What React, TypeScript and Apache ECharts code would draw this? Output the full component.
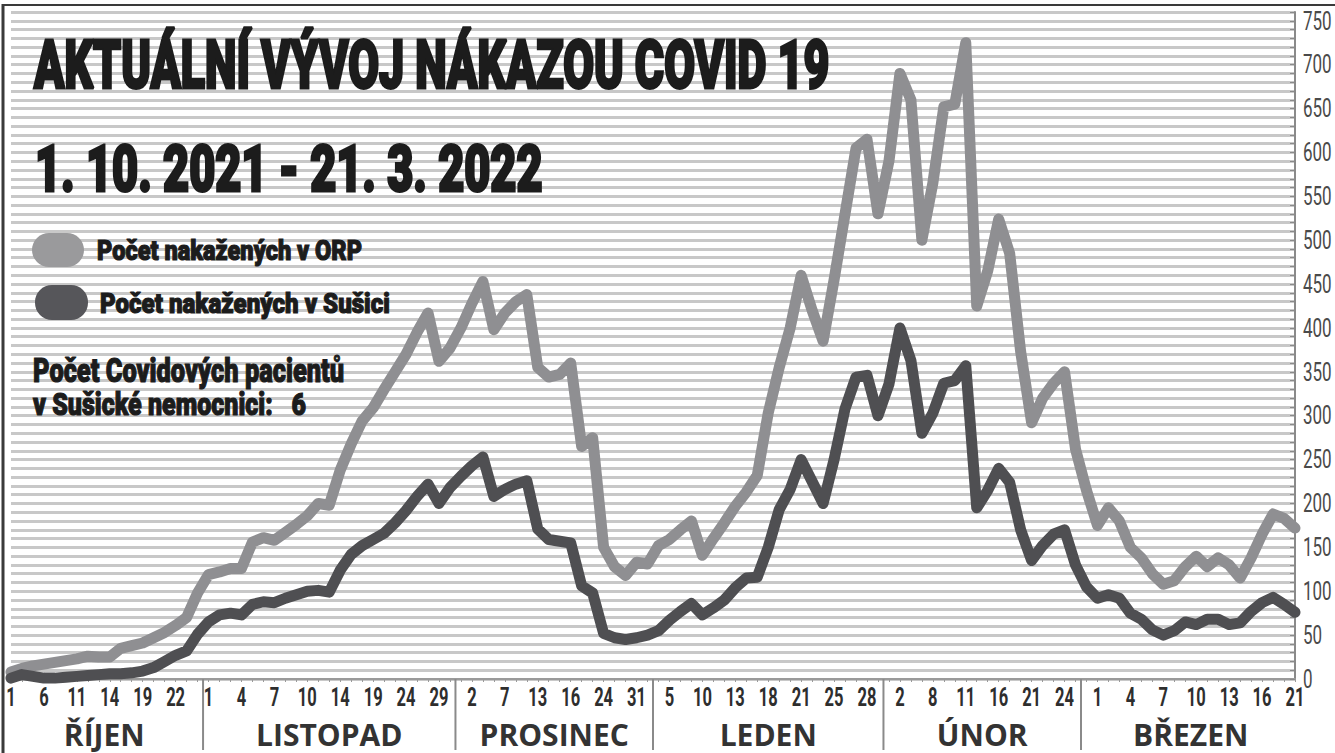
import React, { useEffect, useRef } from "react";
import * as echarts from "echarts";

// ---------- data ----------
const tickLabels = [
  "1", "6", "11", "14", "19", "22",
  "1", "4", "7", "10", "14", "19", "24", "29",
  "2", "7", "13", "16", "24", "31",
  "5", "10", "13", "18", "21", "25", "28",
  "2", "8", "11", "16", "21", "24",
  "1", "4", "7", "10", "13", "16", "21",
];
const labelStep = 3;

const orpCases = [
  8, 12, 15, 17, 19, 21, 23, 26, 25, 25,
  35, 38, 41, 47, 53, 61, 70, 98, 119, 122,
  126, 126, 156, 161, 158, 167, 176, 186, 200, 198,
  238, 268, 294, 309, 330, 350, 370, 395, 417, 362,
  377, 400, 428, 453, 398, 417, 430, 438, 355, 344,
  347, 360, 265, 275, 150, 128, 118, 133, 131, 152,
  159, 170, 180, 141, 160, 178, 197, 213, 232, 303,
  355, 400, 460, 420, 385, 455, 530, 605, 615, 530,
  590, 690, 660, 500, 565, 652, 655, 725, 425, 465,
  524, 485, 373, 292, 320, 337, 350, 262, 215, 175,
  195, 180, 150, 138, 120, 108, 112, 128, 140, 128,
  138, 130, 115, 138, 165, 188, 183, 172,
];

const susiceCases = [
  1, 5, 3, 1, 1, 2, 3, 4, 5, 6,
  6, 7, 9, 13, 20, 27, 32, 51, 65, 73,
  75, 73, 85, 88, 87, 92, 96, 100, 101, 99,
  124, 142, 152, 159, 166, 178, 192, 208, 222, 200,
  218, 231, 243, 253, 208, 216, 222, 226, 171, 159,
  157, 155, 106, 98, 52, 47, 45, 47, 50, 55,
  67, 77, 86, 73, 81, 90, 104, 115, 116, 150,
  193, 216, 250, 225, 200, 250, 308, 344, 346, 300,
  336, 400, 363, 280, 303, 337, 340, 357, 195, 215,
  240, 224, 170, 135, 152, 165, 170, 130, 105, 92,
  96, 92, 75, 68, 56, 50, 55, 65, 62, 68,
  68, 62, 64, 77, 87, 93, 85, 76,
];

const months = ["ŘÍJEN", "LISTOPAD", "PROSINEC", "LEDEN", "ÚNOR", "BŘEZEN"];
const monthStart = [0, 18, 41, 59, 80, 98];

const yMax = 760;
const yStep = 10;
const yLabelStep = 50;
const yLabelMax = 750;

const titleText = "AKTUÁLNÍ VÝVOJ NÁKAZOU COVID 19";
const dateText = "1. 10. 2021 - 21. 3. 2022";
const legendOrp = "Počet nakažených v ORP";
const legendSusice = "Počet nakažených v Sušici";
const patientsLine1 = "Počet Covidových pacientů";
const patientsLine2 = "v Sušické nemocnici:   6";

// ---------- styling ----------
const W = 1335;
const H = 753;
const ORP_COLOR = "#8f8f92";
const SUS_COLOR = "#4f4f52";
const INK = "#1c1c1c";

function measure(text: string, font: string): number {
  const c = document.createElement("canvas").getContext("2d")!;
  c.font = font;
  return c.measureText(text).width || 1;
}

function fitText(
  text: string,
  x: number,
  yMid: number,
  fontSize: number,
  weight: string,
  width: number,
  color: string,
  stroke: number
) {
  const family = "Roboto";
  const w = measure(text, `${weight} ${fontSize}px ${family}`);
  return {
    type: "text",
    x,
    y: yMid,
    scaleX: width / w,
    z: 100,
    style: {
      text,
      x: 0,
      y: 0,
      fill: color,
      stroke: stroke > 0 ? color : undefined,
      lineWidth: stroke,
      fontSize,
      fontWeight: weight,
      fontFamily: family,
      textAlign: "left",
      textVerticalAlign: "middle",
      align: "left",
      verticalAlign: "middle",
    },
  };
}

function narrowText(
  text: string,
  x: number,
  y: number,
  fontSize: number,
  weight: string,
  scaleX: number,
  color: string,
  align: string
) {
  return {
    type: "text",
    x,
    y,
    scaleX,
    z: 100,
    style: {
      text,
      x: 0,
      y: 0,
      fill: color,
      fontSize,
      fontWeight: weight,
      fontFamily: "Roboto",
      textAlign: align,
      textVerticalAlign: "middle",
      align,
      verticalAlign: "middle",
    },
  };
}

export default function App() {
  const ref = useRef<HTMLDivElement>(null);

  useEffect(() => {
    if (!ref.current) return;
    const chart = echarts.init(ref.current, null, { renderer: "svg" });
    const categories = orpCases.map((_, i) => String(i));

    chart.setOption({
      animation: false,
      backgroundColor: "#ffffff",
      grid: { left: 11, right: 40, top: 12, bottom: 74, containLabel: false },
      xAxis: {
        type: "category",
        data: categories,
        boundaryGap: false,
        axisLine: { show: true, lineStyle: { color: "#9a9a9a", width: 2 } },
        axisTick: { show: true, interval: 0, length: 3, lineStyle: { color: "#9a9a9a" } },
        axisLabel: { show: false },
        splitLine: { show: false },
      },
      yAxis: {
        type: "value",
        position: "right",
        min: 0,
        max: yMax,
        interval: yStep,
        axisLine: { show: true, lineStyle: { color: "#8a8a8a", width: 2 } },
        axisTick: { show: true, inside: true, length: 5, lineStyle: { color: "#8a8a8a" } },
        axisLabel: { show: false },
        splitLine: { show: true, lineStyle: { color: "#c8c8c8", width: 3 } },
      },
      series: [
        {
          type: "line",
          name: legendOrp,
          data: orpCases,
          symbol: "none",
          z: 3,
          lineStyle: { color: ORP_COLOR, width: 11, cap: "round", join: "round" },
        },
        {
          type: "line",
          name: legendSusice,
          data: susiceCases,
          symbol: "none",
          z: 4,
          lineStyle: { color: SUS_COLOR, width: 11, cap: "round", join: "round" },
        },
      ],
    });

    // positions via the chart's own scales
    const p0 = chart.convertToPixel({ xAxisIndex: 0 }, 0) as number;
    const p1 = chart.convertToPixel({ xAxisIndex: 0 }, 1) as number;
    const px = (f: number) => p0 + f * (p1 - p0);
    const axisY = chart.convertToPixel({ yAxisIndex: 0 }, 0) as number;
    const axisX = chart.convertToPixel({ xAxisIndex: 0 }, orpCases.length - 1) as number;
    const last = orpCases.length - 1;

    const graphics: any[] = [];
    // frame
    graphics.push({ type: "line", z: 100, shape: { x1: 3, y1: 5, x2: W, y2: 5 }, style: { stroke: "#3a3a3a", lineWidth: 2 } });
    graphics.push({ type: "line", z: 100, shape: { x1: 3, y1: 4, x2: 3, y2: H }, style: { stroke: "#3a3a3a", lineWidth: 3 } });

    // x tick labels
    tickLabels.forEach((t, k) => {
      const x = chart.convertToPixel({ xAxisIndex: 0 }, k * labelStep) as number;
      graphics.push(narrowText(t, x, axisY + 18, 25, "bold", 0.66, "#2e2e2e", "center"));
    });
    // y tick labels
    for (let v = 0; v <= yLabelMax; v += yLabelStep) {
      const y = chart.convertToPixel({ yAxisIndex: 0 }, v) as number;
      graphics.push(narrowText(String(v), axisX + 8, y, 25, "normal", 0.68, "#4a4a4a", "left"));
    }

    // month dividers and names
    monthStart.forEach((s, k) => {
      const e = k + 1 < monthStart.length ? monthStart[k + 1] - 1 : last;
      if (k > 0) {
        const x = px(s - 0.5);
        graphics.push({ type: "line", z: 100, shape: { x1: x, y1: axisY, x2: x, y2: 750 }, style: { stroke: "#8a8a8a", lineWidth: 2 } });
      }
      const cx = px((s - 0.5 + e + 0.5) / 2);
      graphics.push({
        type: "text",
        z: 100,
        x: cx,
        y: 734,
        style: {
          text: months[k],
          fill: "#333333",
          fontSize: 30,
          fontWeight: "bold",
          fontFamily: "'Open Sans', Roboto, sans-serif",
          textAlign: "center",
          textVerticalAlign: "middle",
          align: "center",
          verticalAlign: "middle",
        },
      });
    });

    // titles
    graphics.push(fitText(titleText, 34, 66, 66, "900", 796, INK, 3));
    graphics.push(fitText(dateText, 35, 170, 64, "900", 508, INK, 3));

    // legend
    graphics.push({ type: "rect", z: 100, shape: { x: 32, y: 233, width: 52, height: 34, r: 17 }, style: { fill: "#9a9a9c" } });
    graphics.push({ type: "rect", z: 100, shape: { x: 35, y: 285, width: 53, height: 35, r: 17 }, style: { fill: "#56565a" } });
    graphics.push(fitText(legendOrp, 97, 250, 28, "900", 265, INK, 1.2));
    graphics.push(fitText(legendSusice, 100, 303, 28, "900", 290, INK, 1.2));

    // patients note
    graphics.push(fitText(patientsLine1, 33, 370, 34, "900", 311, INK, 1.2));
    graphics.push(fitText(patientsLine2, 33, 404, 32, "900", 273, INK, 1.2));

    chart.setOption({ graphic: graphics });

    return () => chart.dispose();
  }, []);

  return (
    <div
      ref={ref}
      style={{ position: "fixed", left: 0, top: 0, width: W, height: H, background: "#fff" }}
    />
  );
}
